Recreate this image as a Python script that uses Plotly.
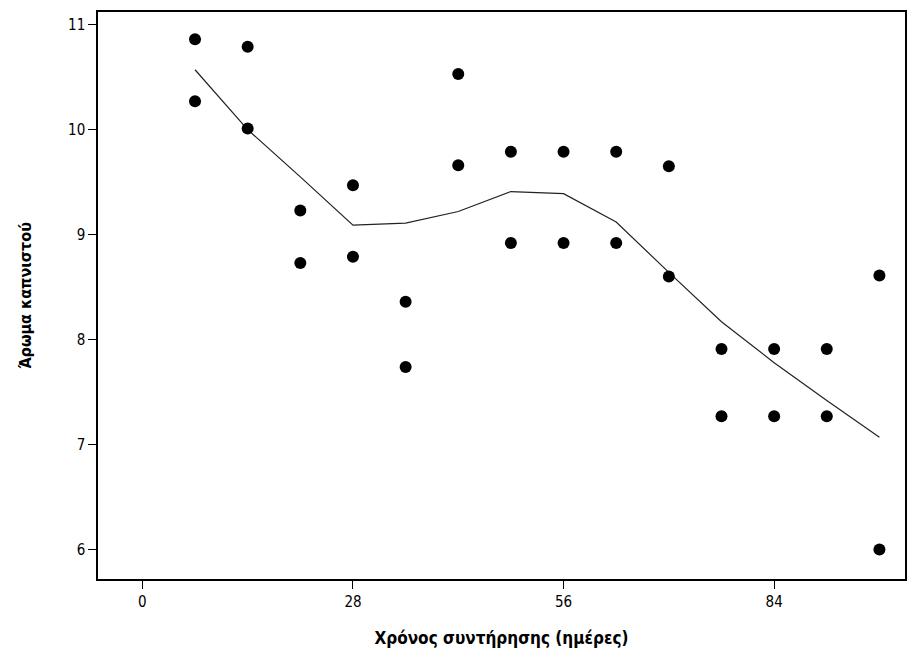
import plotly.graph_objects as go

days = [7, 7, 14, 14, 21, 21, 28, 28, 35, 35, 42, 42, 49, 49, 56, 56,
        63, 63, 70, 70, 77, 77, 84, 84, 91, 91, 98, 98]
aroma = [10.86, 10.27, 10.79, 10.01, 9.23, 8.73, 9.47, 8.79, 8.36, 7.74,
         10.53, 9.66, 9.79, 8.92, 9.79, 8.92, 9.79, 8.92, 9.65, 8.60,
         7.91, 7.27, 7.91, 7.27, 7.91, 7.27, 8.61, 6.00]

fit_days = [7, 14, 21, 28, 35, 42, 49, 56, 63, 70, 77, 84, 91, 98]
fit_vals = [10.57, 10.00, 9.55, 9.09, 9.11, 9.22, 9.41, 9.39, 9.12, 8.64,
            8.17, 7.78, 7.42, 7.07]

x_ticks = [0, 28, 56, 84]
y_ticks = [6, 7, 8, 9, 10, 11]

font_fam = "Liberation Sans Narrow, DejaVu Sans Condensed, Arial Narrow, sans-serif"

fig = go.Figure()
fig.add_trace(go.Scatter(x=fit_days, y=fit_vals, mode="lines",
                         line=dict(color="#222222", width=1.2), hoverinfo="skip"))
fig.add_trace(go.Scatter(x=days, y=aroma, mode="markers",
                         marker=dict(color="black", size=12, symbol="circle")))

fig.update_layout(
    width=915, height=660,
    margin=dict(l=98, r=8, t=12, b=81),
    paper_bgcolor="white", plot_bgcolor="white",
    showlegend=False,
    font=dict(family=font_fam, color="black", size=15),
)
fig.update_xaxes(
    range=[-5.9, 101.4], tickvals=x_ticks, ticktext=[str(v) for v in x_ticks],
    showgrid=False, zeroline=False, showline=True, linecolor="black", linewidth=1.5,
    mirror=True, ticks="outside", ticklen=8, tickcolor="black",
    tickfont=dict(size=15),
    title=dict(text="<b>Χρόνος συντήρησης (ημέρες)</b>",
               font=dict(size=17, family=font_fam), standoff=22),
)
fig.update_yaxes(
    range=[5.72, 11.12], tickvals=y_ticks, ticktext=[str(v) for v in y_ticks],
    showgrid=False, zeroline=False, showline=True, linecolor="black", linewidth=1.5,
    mirror=True, ticks="outside", ticklen=8, tickcolor="black",
    tickfont=dict(size=15),
    title=dict(text="<b>Άρωμα καπνιστού</b>", font=dict(size=16, family=font_fam),
               standoff=32),
)

fig.write_html("out.html")
